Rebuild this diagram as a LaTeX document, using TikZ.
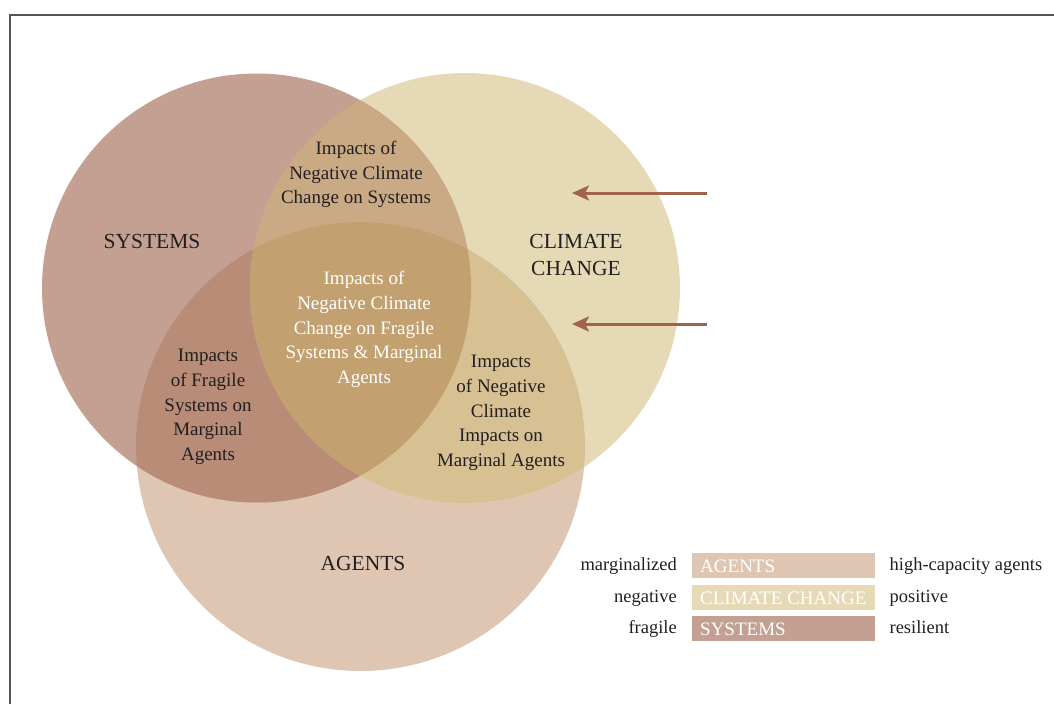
\documentclass[tikz,border=0pt]{standalone}
\usepackage{fontspec}
\setmainfont{Liberation Serif}
\usetikzlibrary{arrows.meta}

\definecolor{sysC}{HTML}{C4A092}
\definecolor{cliC}{HTML}{E6DAB6}
\definecolor{ageC}{HTML}{DFC6B3}
\definecolor{scC}{HTML}{C9AA85}
\definecolor{saC}{HTML}{B88C77}
\definecolor{caC}{HTML}{D7C193}
\definecolor{allC}{HTML}{C2A06F}
\definecolor{inkC}{HTML}{231F20}
\definecolor{arrowC}{HTML}{A0644C}
\definecolor{frameC}{HTML}{555555}

\tikzset{
  region/.style={font=\fontsize{19}{24.8}\selectfont, text=inkC, align=center, inner sep=0pt},
  whiteregion/.style={region, text=white},
  title/.style={font=\fontsize{21.5}{27}\selectfont, text=inkC, align=center, inner sep=0pt},
  legendbox/.style={minimum width=183pt, minimum height=25pt, inner sep=0pt, anchor=north west},
  legendtext/.style={font=\fontsize{19}{20}\selectfont, text=white, anchor=base west, inner sep=0pt},
  legendlabel/.style={font=\fontsize{18.5}{20}\selectfont, text=inkC, inner sep=0pt},
  pointer/.style={draw=arrowC, line width=3pt, -{Stealth[length=17pt, width=15pt, inset=4pt]}}
}

\begin{document}
\begin{tikzpicture}[x=1pt, y=-1pt]
\useasboundingbox (0,0) rectangle (1054,704);

% frame
\draw[frameC, line width=2pt] (10,704) -- (10,15) -- (1054,15);

% circles
\fill[ageC] (360.5,446.5) circle (224.5);
\fill[cliC] (465,288) circle (215);
\fill[sysC] (256.5,288) circle (214.5);

% pairwise overlaps
\begin{scope}
  \clip (256.5,288) circle (214.5);
  \fill[scC] (465,288) circle (215);
\end{scope}
\begin{scope}
  \clip (256.5,288) circle (214.5);
  \fill[saC] (360.5,446.5) circle (224.5);
\end{scope}
\begin{scope}
  \clip (465,288) circle (215);
  \fill[caC] (360.5,446.5) circle (224.5);
\end{scope}
% triple overlap
\begin{scope}
  \clip (256.5,288) circle (214.5);
  \clip (465,288) circle (215);
  \fill[allC] (360.5,446.5) circle (224.5);
\end{scope}

% set titles
\node[title] (systems) at (152,241) {SYSTEMS};
\node[title] (climate) at (576,255) {CLIMATE\\CHANGE};
\node[title] (agents) at (363,563) {AGENTS};

% overlap texts
\node[region] (sc) at (356,174.5) {Impacts of\\Negative Climate\\Change on Systems};
\node[whiteregion] (all) at (364,329.5) {Impacts of\\Negative Climate\\Change on Fragile\\Systems \& Marginal\\Agents};
\node[region] (sa) at (208,407) {Impacts\\of Fragile\\Systems on\\Marginal\\Agents};
\node[region] (ca) at (501,413) {Impacts\\of Negative\\Climate\\Impacts on\\Marginal Agents};

% arrows
\coordinate (a1s) at (707,193);
\coordinate (a1e) at (572,193);
\coordinate (a2s) at (707,324);
\coordinate (a2e) at (572,324);
\draw[pointer] (a1s) -- (a1e);
\draw[pointer] (a2s) -- (a2e);

% legend
\node[legendbox, fill=ageC] (lgA) at (692,553) {};
\node[legendbox, fill=cliC] (lgC) at (692,585) {};
\node[legendbox, fill=sysC] (lgS) at (692,616) {};
\node[legendtext] at ([xshift=8pt, yshift=-19pt]lgA.north west) {AGENTS};
\node[legendtext] at ([xshift=8pt, yshift=-19pt]lgC.north west) {CLIMATE CHANGE};
\node[legendtext] at ([xshift=8pt, yshift=-19pt]lgS.north west) {SYSTEMS};
\node[legendlabel, anchor=base east] (lA) at ([xshift=-15pt, yshift=-17pt]lgA.north west) {marginalized};
\node[legendlabel, anchor=base east] (lC) at ([xshift=-15pt, yshift=-17pt]lgC.north west) {negative};
\node[legendlabel, anchor=base east] (lS) at ([xshift=-15pt, yshift=-17pt]lgS.north west) {fragile};
\node[legendlabel, anchor=base west] (rA) at ([xshift=14pt, yshift=-17pt]lgA.north east) {high-capacity agents};
\node[legendlabel, anchor=base west] (rC) at ([xshift=14pt, yshift=-17pt]lgC.north east) {positive};
\node[legendlabel, anchor=base west] (rS) at ([xshift=14pt, yshift=-17pt]lgS.north east) {resilient};
\end{tikzpicture}
\end{document}
